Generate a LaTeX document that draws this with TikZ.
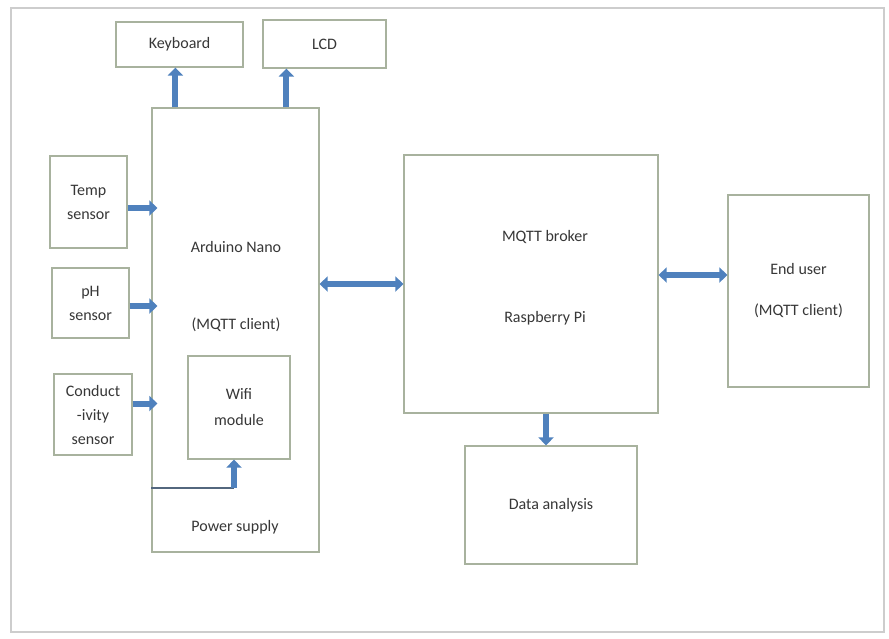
\documentclass[tikz,border=0pt]{standalone}
\usepackage{fontspec}
\setmainfont{Carlito}
\usepackage{tikz}
\usetikzlibrary{arrows.meta,positioning,calc}

\definecolor{boxgray}{RGB}{168,178,158}
\definecolor{framegray}{RGB}{205,205,205}
\definecolor{arrowblue}{RGB}{79,129,189}
\definecolor{textgray}{RGB}{55,55,55}

\tikzset{
  block/.style={draw=boxgray, line width=1.2pt, fill=white, text=textgray, align=center, inner sep=0pt},
  arr/.style={draw=arrowblue, line width=6pt, -{Triangle[width=15pt,length=8pt]}},
  darr/.style={draw=arrowblue, line width=6pt, {Triangle[width=15pt,length=8pt]}-{Triangle[width=15pt,length=8pt]}},
  lbl/.style={text=textgray, inner sep=0pt}
}

\begin{document}
\begin{tikzpicture}[x=1pt,y=-1pt,font=\fontsize{16}{24}\selectfont]
\useasboundingbox (0,0) rectangle (889,638);
\draw[framegray, line width=1.5pt] (11,8) rectangle (884,632);

% blocks
\node[block, minimum width=127pt, minimum height=45pt] (keyboard) at (179.5,44.5) {Keyboard};
\node[block, minimum width=123pt, minimum height=48pt] (lcd) at (324.5,44) {LCD};
\node[block, minimum width=167pt, minimum height=444pt] (nano) at (235.5,330) {};
\node[block, minimum width=77pt, minimum height=92pt] (temp) at (88.5,202) {Temp\\sensor};
\node[block, minimum width=77pt, minimum height=70pt] (ph) at (90.5,303) {pH\\sensor};
\node[block, minimum width=78pt, minimum height=81pt] (cond) at (93,414.5) {Conduct\\-ivity\\sensor};
\node[block, minimum width=102pt, minimum height=103pt] (wifi) at (239,407.5) {Wifi\\[2pt]module};
\node[block, minimum width=254pt, minimum height=258pt] (broker) at (531,284) {};
\node[block, minimum width=141pt, minimum height=192pt] (enduser) at (798.5,291) {End user\\[17pt](MQTT client)};
\node[block, minimum width=172pt, minimum height=118pt] (data) at (551,505) {Data analysis};

% texts inside the big boxes
\node[lbl] (nanoname) at (236,247) {Arduino Nano};
\node[lbl] (nanoclient) at (236,325) {(MQTT client)};
\node[lbl] (power) at (235,527) {Power supply};
\node[lbl] (brokername) at (545,237) {MQTT broker};
\node[lbl] (rpi) at (545,318) {Raspberry Pi};

% connectors
\draw[arr] ([xshift=24pt]nano.north west) -- ([xshift=24pt]nano.north west |- keyboard.south);
\draw[arr] ([xshift=135pt]nano.north west) -- ([xshift=135pt]nano.north west |- lcd.south);
\draw[arr] ([yshift=-6pt]temp.east) -- ([yshift=-6pt,xshift=6pt]temp.east -| nano.west);
\draw[arr] ([yshift=-3pt]ph.east) -- ([yshift=-3pt,xshift=6pt]ph.east -| nano.west);
\draw[arr] ([yshift=11pt]cond.east) -- ([yshift=11pt,xshift=6pt]cond.east -| nano.west);
\draw[darr] (broker.west -| nano.east) -- (broker.west);
\draw[darr] ([yshift=9pt]broker.east) -- ([yshift=9pt]broker.east -| enduser.west);
\draw[arr] ([xshift=-5pt]data.north |- broker.south) -- ([xshift=-5pt]data.north);
\coordinate (pwr) at (234,488);
\draw[arrowblue!50!black!80, line width=1.5pt] (nano.west |- pwr) -- (pwr);
\draw[arr] (pwr) -- (pwr |- wifi.south);
\end{tikzpicture}
\end{document}
